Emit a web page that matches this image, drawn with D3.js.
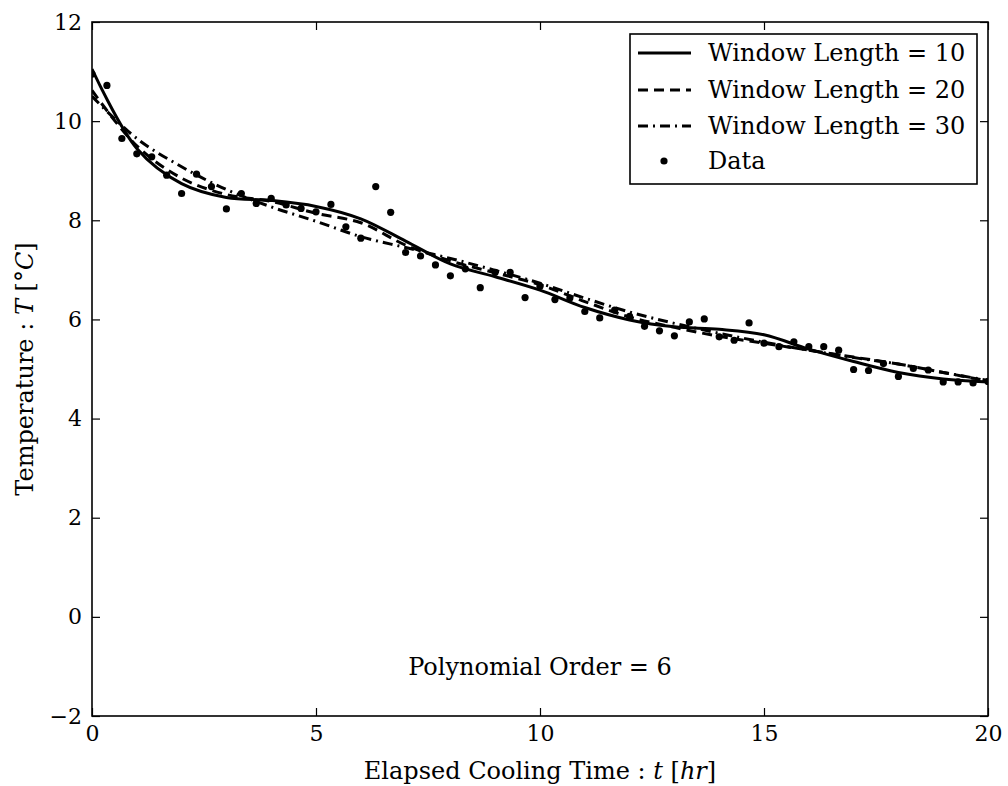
<!DOCTYPE html>
<html>
<head>
<meta charset="utf-8">
<script src="https://cdn.jsdelivr.net/npm/d3@7"></script>
<style>
  html, body { margin: 0; padding: 0; background: #fff; }
  svg { display: block; font-family: "DejaVu Serif", serif; }
</style>
</head>
<body>
<div id="chart"></div>
<script>
// Savitzky-Golay smoothing of a cooling curve, three window lengths, poly order 6.
// Values.

// measured temperatures, one every 1/3 hour from t = 0 to t = 20
const dataTemps = [
  10.95, 10.72, 9.65, 9.34, 9.28, 8.91, 8.54, 8.93, 8.68, 8.23,
  8.54, 8.34, 8.44, 8.31, 8.24, 8.17, 8.32, 7.87, 7.64, 8.68,
  8.16, 7.35, 7.28, 7.10, 6.88, 7.02, 6.64, 6.95, 6.95, 6.44,
  6.67, 6.40, 6.43, 6.16, 6.03, 6.19, 6.06, 5.86, 5.77, 5.67,
  5.95, 6.01, 5.65, 5.58, 5.93, 5.52, 5.45, 5.55, 5.45, 5.45,
  5.38, 4.99, 4.97, 5.11, 4.85, 5.01, 4.98, 4.74, 4.74, 4.72,
  4.75
];
const dataTimes = d3.range(dataTemps.length).map(i => i / 3);

// smoothed curves, sampled once per hour
const curveTimes = d3.range(0, 21);
const win10 = [11.05, 9.45, 8.74, 8.46, 8.40, 8.28, 8.03, 7.58, 7.12, 6.86, 6.59,
               6.24, 5.99, 5.85, 5.80, 5.69, 5.40, 5.15, 4.93, 4.80, 4.74];
const win20 = [10.62, 9.50, 8.85, 8.52, 8.38, 8.14, 7.95, 7.50, 7.18, 6.94, 6.70,
               6.36, 6.05, 5.84, 5.66, 5.52, 5.38, 5.24, 5.10, 4.93, 4.76];
const win30 = [10.50, 9.65, 9.08, 8.62, 8.27, 7.98, 7.67, 7.45, 7.23, 6.99, 6.73,
               6.43, 6.15, 5.92, 5.72, 5.54, 5.38, 5.23, 5.10, 4.93, 4.77];

const seriesNames = ["Window Length = 10", "Window Length = 20", "Window Length = 30"];
const seriesValues = [win10, win20, win30];
const seriesDash = [null, "10,6", "10,5,2,5"];

const xTicks = [0, 5, 10, 15, 20];
const yTicks = [-2, 0, 2, 4, 6, 8, 10, 12];

const W = 1008, H = 786;
const margin = { top: 22, right: 20, bottom: 70, left: 92 };

const svg = d3.select("#chart").append("svg")
  .attr("width", W).attr("height", H);

const x = d3.scaleLinear().domain([0, 20]).range([margin.left, W - margin.right]);
const y = d3.scaleLinear().domain([-2, 12]).range([H - margin.bottom, margin.top]);

svg.append("clipPath").attr("id", "plot-clip")
  .append("rect")
  .attr("x", x(0)).attr("y", y(12))
  .attr("width", x(20) - x(0)).attr("height", y(-2) - y(12));

// curves
const line = d3.line()
  .x((d, i) => x(curveTimes[i]))
  .y(d => y(d))
  .curve(d3.curveCatmullRom.alpha(0.5));

const gLines = svg.append("g").attr("clip-path", "url(#plot-clip)");
seriesValues.forEach((vals, k) => {
  gLines.append("path")
    .attr("d", line(vals))
    .attr("fill", "none")
    .attr("stroke", "#000")
    .attr("stroke-width", 3)
    .attr("stroke-dasharray", seriesDash[k]);
});

// data points
gLines.selectAll("circle.pt").data(dataTemps).enter().append("circle")
  .attr("class", "pt")
  .attr("cx", (d, i) => x(dataTimes[i]))
  .attr("cy", d => y(d))
  .attr("r", 3.6)
  .attr("fill", "#000");

// axes, ticks pointing inward on all four sides
const tickLen = 8;
const tickFont = 22;
const labelFont = 24;
const axB = svg.append("g").attr("transform", `translate(0,${y(-2)})`)
  .call(d3.axisBottom(x).tickValues(xTicks).tickSizeInner(-tickLen).tickSizeOuter(0).tickPadding(9));
const axT = svg.append("g").attr("transform", `translate(0,${y(12)})`)
  .call(d3.axisTop(x).tickValues(xTicks).tickSizeInner(-tickLen).tickSizeOuter(0).tickFormat(""));
const axL = svg.append("g").attr("transform", `translate(${x(0)},0)`)
  .call(d3.axisLeft(y).tickValues(yTicks).tickSizeInner(-tickLen).tickSizeOuter(0).tickPadding(10)
    .tickFormat(d => d < 0 ? "\u2212" + Math.abs(d) : d));
const axR = svg.append("g").attr("transform", `translate(${x(20)},0)`)
  .call(d3.axisRight(y).tickValues(yTicks).tickSizeInner(-tickLen).tickSizeOuter(0).tickFormat(""));

[axB, axT, axL, axR].forEach(g => {
  g.select(".domain").remove();
  g.selectAll(".tick line").attr("stroke", "#000").attr("stroke-width", 1.2);
  g.selectAll("text").attr("font-family", "DejaVu Serif").attr("font-size", tickFont).attr("fill", "#000");
});

svg.append("rect")
  .attr("x", x(0)).attr("y", y(12))
  .attr("width", x(20) - x(0)).attr("height", y(-2) - y(12))
  .attr("fill", "none").attr("stroke", "#000").attr("stroke-width", 1.6);

// axis labels
const xl = svg.append("text")
  .attr("x", x(10)).attr("y", 779)
  .attr("text-anchor", "middle").attr("font-size", labelFont);
xl.append("tspan").text("Elapsed Cooling Time : ");
xl.append("tspan").attr("font-style", "italic").text("t");
xl.append("tspan").text(" [");
xl.append("tspan").attr("font-style", "italic").text("hr");
xl.append("tspan").text("]");

const yl = svg.append("text")
  .attr("transform", `translate(33,${y(5)}) rotate(-90)`)
  .attr("text-anchor", "middle").attr("font-size", labelFont);
yl.append("tspan").text("Temperature : ");
yl.append("tspan").attr("font-style", "italic").text("T");
yl.append("tspan").text(" [°");
yl.append("tspan").attr("font-style", "italic").text("C");
yl.append("tspan").text("]");

// annotation
svg.append("text")
  .attr("x", x(10)).attr("y", y(-1))
  .attr("dy", "0.35em")
  .attr("text-anchor", "middle").attr("font-size", labelFont)
  .text("Polynomial Order = 6");

// legend
const leg = svg.append("g").attr("transform", "translate(630,34)");
leg.append("rect").attr("width", 347).attr("height", 150)
  .attr("fill", "#fff").attr("stroke", "#000").attr("stroke-width", 1.6);
const rowY = [19, 56, 92, 127];
seriesNames.forEach((name, k) => {
  leg.append("line")
    .attr("x1", 8).attr("x2", 61).attr("y1", rowY[k]).attr("y2", rowY[k])
    .attr("stroke", "#000").attr("stroke-width", 3)
    .attr("stroke-dasharray", seriesDash[k]);
  leg.append("text").attr("x", 78).attr("y", rowY[k]).attr("dy", "0.35em")
    .attr("font-size", labelFont).text(name);
});
leg.append("circle").attr("cx", 34).attr("cy", rowY[3]).attr("r", 3.6).attr("fill", "#000");
leg.append("text").attr("x", 78).attr("y", rowY[3]).attr("dy", "0.35em")
  .attr("font-size", labelFont).text("Data");
</script>
</body>
</html>
